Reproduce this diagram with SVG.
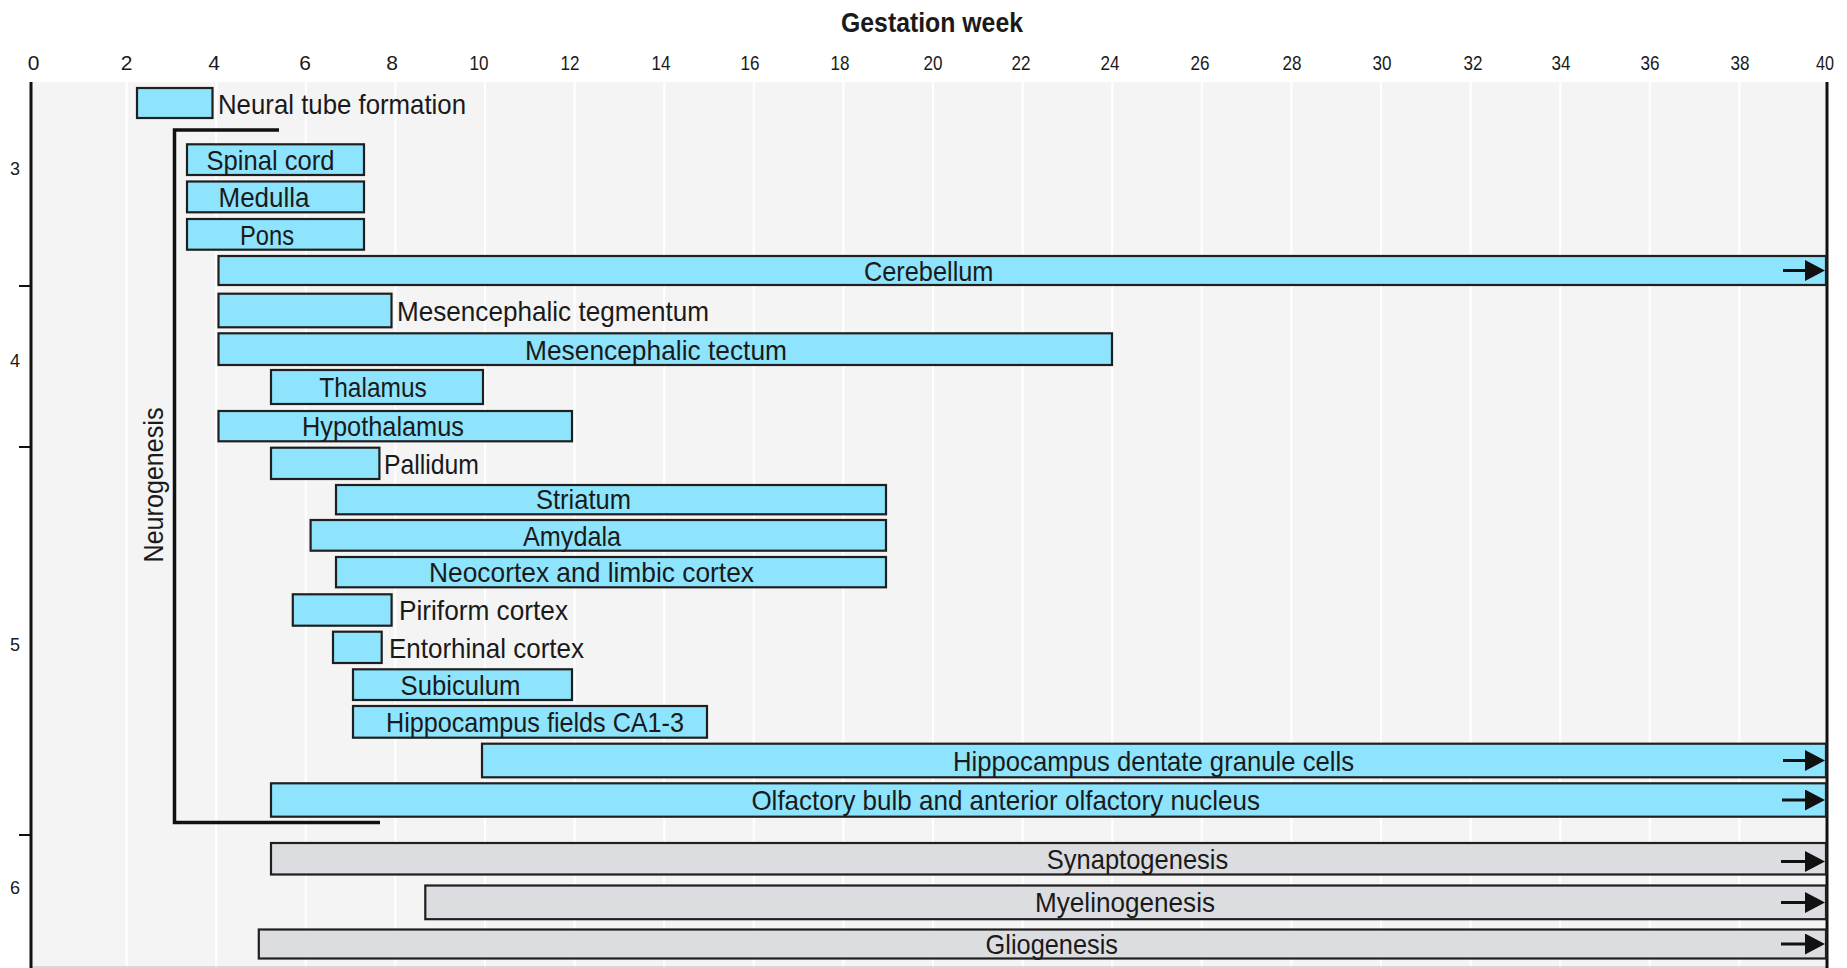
<svg xmlns="http://www.w3.org/2000/svg" width="1847" height="968" viewBox="0 0 1847 968">
<style>
text{font-family:"Liberation Sans Narrow","Liberation Sans",Arial,sans-serif;fill:#1a1a1a}
.lbl{font-size:28px}
.mid{text-anchor:middle}
.ax{font-size:21px;text-anchor:middle}
.yax{font-size:18px;text-anchor:middle}
.title{font-size:28px;font-weight:bold;text-anchor:middle}
.grid{stroke:#ffffff;stroke-width:2}
.bar{fill:#8de4fc;stroke:#1f1f1f;stroke-width:2.2}
.gbar{fill:#dcdde0;stroke:#1f1f1f;stroke-width:2.2}
.arr{stroke:#111;stroke-width:3;fill:none;marker-end:url(#ah)}
.axis{stroke:#111;stroke-width:3;fill:none}
</style>
<defs>
<marker id="ah" markerUnits="userSpaceOnUse" markerWidth="20" markerHeight="21" viewBox="0 0 20 21" refX="2" refY="10.5" orient="auto">
<path d="M0,0 L20,10.5 L0,21 z" fill="#111"/>
</marker>
</defs>
<rect x="0" y="0" width="1847" height="968" fill="#ffffff"/>
<g id="plot-bg">
<rect x="31" y="82" width="1796" height="886" fill="#f4f4f4"/>
<g class="grid">
<line x1="126.6" y1="82" x2="126.6" y2="968"/>
<line x1="216.2" y1="82" x2="216.2" y2="968"/>
<line x1="305.8" y1="82" x2="305.8" y2="968"/>
<line x1="395.4" y1="82" x2="395.4" y2="968"/>
<line x1="485" y1="82" x2="485" y2="968"/>
<line x1="574.6" y1="82" x2="574.6" y2="968"/>
<line x1="664.2" y1="82" x2="664.2" y2="968"/>
<line x1="753.8" y1="82" x2="753.8" y2="968"/>
<line x1="843.4" y1="82" x2="843.4" y2="968"/>
<line x1="933" y1="82" x2="933" y2="968"/>
<line x1="1022.6" y1="82" x2="1022.6" y2="968"/>
<line x1="1112.2" y1="82" x2="1112.2" y2="968"/>
<line x1="1201.8" y1="82" x2="1201.8" y2="968"/>
<line x1="1291.4" y1="82" x2="1291.4" y2="968"/>
<line x1="1381" y1="82" x2="1381" y2="968"/>
<line x1="1470.6" y1="82" x2="1470.6" y2="968"/>
<line x1="1560.2" y1="82" x2="1560.2" y2="968"/>
<line x1="1649.8" y1="82" x2="1649.8" y2="968"/>
<line x1="1739.4" y1="82" x2="1739.4" y2="968"/>
</g>
<line x1="31" y1="967" x2="1827" y2="967" stroke="#cfcfcf" stroke-width="1.5"/>
</g>
<g id="axes">
<text class="title" x="932" y="32" textLength="182" lengthAdjust="spacingAndGlyphs">Gestation week</text>
<text class="ax" x="33.5" y="70">0</text>
<text class="ax" x="126.6" y="70">2</text>
<text class="ax" x="214" y="70">4</text>
<text class="ax" x="305" y="70">6</text>
<text class="ax" x="392" y="70">8</text>
<text class="ax" x="479" y="70" textLength="19" lengthAdjust="spacingAndGlyphs">10</text>
<text class="ax" x="570" y="70" textLength="19" lengthAdjust="spacingAndGlyphs">12</text>
<text class="ax" x="661" y="70" textLength="19" lengthAdjust="spacingAndGlyphs">14</text>
<text class="ax" x="750" y="70" textLength="19" lengthAdjust="spacingAndGlyphs">16</text>
<text class="ax" x="840" y="70" textLength="19" lengthAdjust="spacingAndGlyphs">18</text>
<text class="ax" x="933" y="70" textLength="19" lengthAdjust="spacingAndGlyphs">20</text>
<text class="ax" x="1021" y="70" textLength="19" lengthAdjust="spacingAndGlyphs">22</text>
<text class="ax" x="1110" y="70" textLength="19" lengthAdjust="spacingAndGlyphs">24</text>
<text class="ax" x="1200" y="70" textLength="19" lengthAdjust="spacingAndGlyphs">26</text>
<text class="ax" x="1292" y="70" textLength="19" lengthAdjust="spacingAndGlyphs">28</text>
<text class="ax" x="1382" y="70" textLength="19" lengthAdjust="spacingAndGlyphs">30</text>
<text class="ax" x="1473" y="70" textLength="19" lengthAdjust="spacingAndGlyphs">32</text>
<text class="ax" x="1561" y="70" textLength="19" lengthAdjust="spacingAndGlyphs">34</text>
<text class="ax" x="1650" y="70" textLength="19" lengthAdjust="spacingAndGlyphs">36</text>
<text class="ax" x="1740" y="70" textLength="19" lengthAdjust="spacingAndGlyphs">38</text>
<text class="ax" x="1825" y="70" textLength="18" lengthAdjust="spacingAndGlyphs">40</text>
<line class="axis" x1="31" y1="82" x2="31" y2="968"/>
<line class="axis" x1="1827" y1="82" x2="1827" y2="968"/>
<line x1="19" y1="286" x2="31" y2="286" stroke="#111" stroke-width="2"/>
<line x1="19" y1="447" x2="31" y2="447" stroke="#111" stroke-width="2"/>
<line x1="19" y1="835" x2="31" y2="835" stroke="#111" stroke-width="2"/>
<text class="yax" x="15" y="175">3</text>
<text class="yax" x="15" y="367">4</text>
<text class="yax" x="15" y="651">5</text>
<text class="yax" x="15" y="894">6</text>
</g>
<g id="neurogenesis">
<path d="M279,130 H174.5 V822.5 H380" stroke="#111" stroke-width="3.5" fill="none"/>
<text class="lbl mid" transform="translate(163,485) rotate(-90)" textLength="155" lengthAdjust="spacingAndGlyphs">Neurogenesis</text>
</g>
<g id="neural-tube"><rect class="bar" x="137" y="88" width="75.5" height="30"/><text class="lbl" x="218" y="113.5" textLength="248" lengthAdjust="spacingAndGlyphs">Neural tube formation</text></g>
<g id="spinal-cord"><rect class="bar" x="187" y="144.3" width="177" height="30.7"/><text class="lbl mid" x="270.5" y="169.7" textLength="128" lengthAdjust="spacingAndGlyphs">Spinal cord</text></g>
<g id="medulla"><rect class="bar" x="187" y="181.5" width="177" height="30.8"/><text class="lbl mid" x="264" y="206.9" textLength="91" lengthAdjust="spacingAndGlyphs">Medulla</text></g>
<g id="pons"><rect class="bar" x="187" y="219" width="177" height="30.7"/><text class="lbl mid" x="267" y="244.5" textLength="54" lengthAdjust="spacingAndGlyphs">Pons</text></g>
<g id="cerebellum"><rect class="bar" x="218.5" y="256" width="1607.5" height="29"/><text class="lbl mid" x="928.7" y="280.5" textLength="129.5" lengthAdjust="spacingAndGlyphs">Cerebellum</text></g>
<g id="mes-tegmentum"><rect class="bar" x="218.5" y="293.7" width="173" height="33.6"/><text class="lbl" x="397" y="320.5" textLength="312" lengthAdjust="spacingAndGlyphs">Mesencephalic tegmentum</text></g>
<g id="mes-tectum"><rect class="bar" x="218.5" y="333.3" width="893.5" height="31.7"/><text class="lbl mid" x="656" y="359.5" textLength="262" lengthAdjust="spacingAndGlyphs">Mesencephalic tectum</text></g>
<g id="thalamus"><rect class="bar" x="271" y="370" width="212" height="34"/><text class="lbl mid" x="373" y="397" textLength="107.5" lengthAdjust="spacingAndGlyphs">Thalamus</text></g>
<g id="hypothalamus"><rect class="bar" x="218.5" y="411" width="353.5" height="30.3"/><text class="lbl mid" x="383" y="436" textLength="162" lengthAdjust="spacingAndGlyphs">Hypothalamus</text></g>
<g id="pallidum"><rect class="bar" x="271" y="447.7" width="108.4" height="31.3"/><text class="lbl" x="384" y="473.5" textLength="95" lengthAdjust="spacingAndGlyphs">Pallidum</text></g>
<g id="striatum"><rect class="bar" x="336" y="485" width="550" height="29.3"/><text class="lbl mid" x="583.5" y="509" textLength="95" lengthAdjust="spacingAndGlyphs">Striatum</text></g>
<g id="amydala"><rect class="bar" x="310.6" y="520" width="575.4" height="30.7"/><text class="lbl mid" x="572" y="545.5" textLength="98" lengthAdjust="spacingAndGlyphs">Amydala</text></g>
<g id="neocortex"><rect class="bar" x="336" y="557" width="550" height="30.3"/><text class="lbl mid" x="591.5" y="582" textLength="325" lengthAdjust="spacingAndGlyphs">Neocortex and limbic cortex</text></g>
<g id="piriform"><rect class="bar" x="292.8" y="594.3" width="98.8" height="31.4"/><text class="lbl" x="399" y="620" textLength="169" lengthAdjust="spacingAndGlyphs">Piriform cortex</text></g>
<g id="entorhinal"><rect class="bar" x="333" y="631.7" width="48.7" height="31.3"/><text class="lbl" x="389" y="657.5" textLength="195" lengthAdjust="spacingAndGlyphs">Entorhinal cortex</text></g>
<g id="subiculum"><rect class="bar" x="353" y="669.3" width="219" height="30.7"/><text class="lbl mid" x="460.5" y="694.5" textLength="120" lengthAdjust="spacingAndGlyphs">Subiculum</text></g>
<g id="hippocampus-ca"><rect class="bar" x="353" y="706" width="354" height="31.7"/><text class="lbl mid" x="535" y="731.5" textLength="298" lengthAdjust="spacingAndGlyphs">Hippocampus fields CA1-3</text></g>
<g id="hippocampus-dentate"><rect class="bar" x="482" y="743.7" width="1344" height="33.6"/><text class="lbl mid" x="1153.5" y="770.5" textLength="401" lengthAdjust="spacingAndGlyphs">Hippocampus dentate granule cells</text></g>
<g id="olfactory"><rect class="bar" x="271" y="783.3" width="1555" height="33.4"/><text class="lbl mid" x="1005.7" y="810" textLength="508.6" lengthAdjust="spacingAndGlyphs">Olfactory bulb and anterior olfactory nucleus</text></g>
<g id="synaptogenesis"><rect class="gbar" x="271" y="843" width="1555" height="31.5"/><text class="lbl mid" x="1137.5" y="868.5" textLength="181.5" lengthAdjust="spacingAndGlyphs">Synaptogenesis</text></g>
<g id="myelinogenesis"><rect class="gbar" x="425.3" y="885.5" width="1400.7" height="33.7"/><text class="lbl mid" x="1125" y="912" textLength="180" lengthAdjust="spacingAndGlyphs">Myelinogenesis</text></g>
<g id="gliogenesis"><rect class="gbar" x="258.8" y="929.5" width="1567.2" height="29"/><text class="lbl mid" x="1051.8" y="954" textLength="132.5" lengthAdjust="spacingAndGlyphs">Gliogenesis</text></g>
<g id="connectors">
<path class="arr" d="M1783,270.5 H1807"/>
<path class="arr" d="M1783,760.5 H1807"/>
<path class="arr" d="M1782,800 H1807"/>
<path class="arr" d="M1781,861.5 H1807"/>
<path class="arr" d="M1781,902.5 H1807"/>
<path class="arr" d="M1781,944 H1807"/>
</g>
</svg>
